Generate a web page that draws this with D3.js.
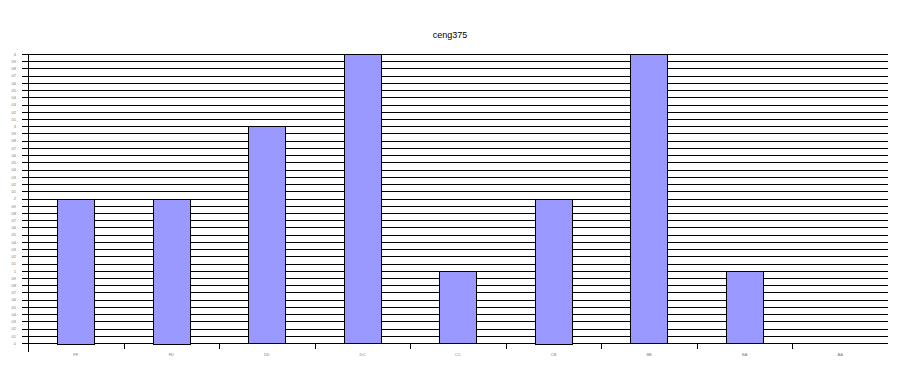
<!DOCTYPE html>
<html>
  <head>
    <meta http-equiv="Content-Type" content="text/html;charset=utf-8" />
    <title>ceng375</title>
    <style>
      body {
        margin: 0;
        background: #fff;
        font-family: "Liberation Sans", Arial, sans-serif;
      }
      .grid line {
        stroke: #000;
        stroke-width: 1px;
      }
      .axis path,
      .axis line {
        stroke: #000;
        shape-rendering: crispEdges;
      }
      .axis text {
        font-size: 4px;
        fill: #777;
      }
      rect.bar {
        fill: #9999ff;
        stroke: #000;
        stroke-width: 1px;
      }
      text.title {
        font-size: 9px;
        fill: #000;
      }
    </style>
    <script src="https://d3js.org/d3.v7.min.js"></script>
  </head>
  <body>
    <div id="chart"></div>
    <script type="text/javascript">
      const grades = ["FF", "FD", "DD", "DC", "CC", "CB", "BB", "BA", "AA"];
      const counts = [2, 2, 3, 4, 1, 2, 4, 1, 0];
      const yTicks = d3.range(0, 41).map(function (i) {
        return i / 10;
      });

      const width = 900,
        height = 370;
      const margin = { top: 54, right: 12, bottom: 27, left: 28 };
      const innerW = width - margin.left - margin.right,
        innerH = height - margin.top - margin.bottom;

      const svg = d3
        .select("#chart")
        .append("svg")
        .attr("width", width)
        .attr("height", height);

      svg
        .append("text")
        .attr("class", "title")
        .attr("x", width / 2)
        .attr("y", 38)
        .attr("text-anchor", "middle")
        .text("ceng375");

      const g = svg
        .append("g")
        .attr("transform", "translate(" + margin.left + "," + margin.top + ")");

      const x = d3
        .scaleBand()
        .domain(grades)
        .range([0, innerW])
        .paddingInner(0.61)
        .paddingOuter(0.305);

      const y = d3.scaleLinear().domain([0, 4]).range([innerH, 0]);

      // horizontal grid, one line per tenth
      g.append("g")
        .attr("class", "grid")
        .selectAll("line")
        .data(yTicks)
        .enter()
        .append("line")
        .attr("x1", -6)
        .attr("x2", innerW)
        .attr("y1", function (d) {
          return Math.round(y(d)) + 0.5;
        })
        .attr("y2", function (d) {
          return Math.round(y(d)) + 0.5;
        });

      const yAxis = d3
        .axisLeft(y)
        .tickValues(yTicks)
        .tickSize(0)
        .tickPadding(12)
        .tickFormat(function (d) {
          return Number.isInteger(d) ? d3.format("d")(d) : d3.format(".1f")(d % 1).replace("0.", "0");
        });

      g.append("g")
        .attr("class", "axis")
        .call(yAxis)
        .call(function (a) {
          a.select(".domain").remove();
        });

      // left axis line, running a little below zero
      g.append("line")
        .attr("x1", 0.5)
        .attr("x2", 0.5)
        .attr("y1", 0)
        .attr("y2", innerH + 9)
        .attr("stroke", "#000");

      // category boundaries on the x axis
      const step = x.step();
      g.append("g")
        .attr("class", "axis")
        .selectAll("line")
        .data(grades.slice(1))
        .enter()
        .append("line")
        .attr("x1", function (d) {
          return Math.round(x(d) - x.paddingOuter() * step) + 0.5;
        })
        .attr("x2", function (d) {
          return Math.round(x(d) - x.paddingOuter() * step) + 0.5;
        })
        .attr("y1", innerH)
        .attr("y2", innerH + 6);

      g.append("g")
        .attr("class", "axis")
        .selectAll("text")
        .data(grades)
        .enter()
        .append("text")
        .attr("x", function (d) {
          return x(d) + x.bandwidth() / 2;
        })
        .attr("y", innerH + 13)
        .attr("text-anchor", "middle")
        .text(function (d) {
          return d;
        });

      g.selectAll("rect.bar")
        .data(counts)
        .enter()
        .append("rect")
        .attr("class", "bar")
        .attr("x", function (d, i) {
          return Math.round(x(grades[i])) + 0.5;
        })
        .attr("y", function (d) {
          return Math.round(y(d)) + 0.5;
        })
        .attr("width", Math.round(x.bandwidth()))
        .attr("height", function (d) {
          return Math.round(innerH - y(d));
        })
        .style("display", function (d) {
          return d > 0 ? null : "none";
        });
    </script>
  </body>
</html>
